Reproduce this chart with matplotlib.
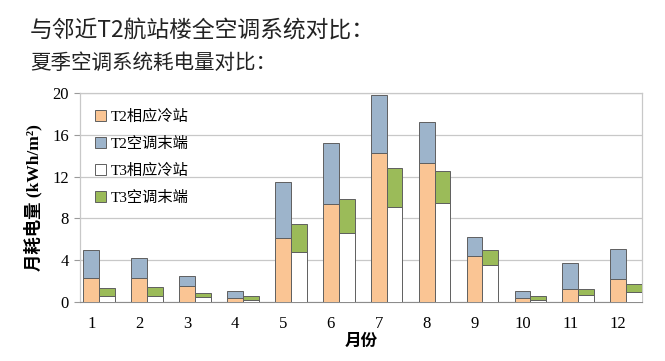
import numpy as np
import matplotlib
matplotlib.use("Agg")
import matplotlib.pyplot as plt
from matplotlib.patches import Patch

# monthly AC electricity use (kWh/m2)
months = ["1", "2", "3", "4", "5", "6", "7", "8", "9", "10", "11", "12"]
t2_plant = [2.26, 2.25, 1.5, 0.35, 6.1, 9.35, 14.25, 13.3, 4.4, 0.35, 1.24, 2.2]
t2_terminal = [2.74, 1.95, 1.0, 0.7, 5.35, 5.85, 5.55, 3.9, 1.8, 0.7, 2.49, 2.87]
t3_plant = [0.6, 0.6, 0.45, 0.2, 4.8, 6.6, 9.05, 9.45, 3.55, 0.2, 0.63, 0.98]
t3_terminal = [0.74, 0.8, 0.41, 0.37, 2.7, 3.3, 3.75, 3.1, 1.42, 0.35, 0.61, 0.74]
yticks = [0, 4, 8, 12, 16, 20]

c_t2p = "#FAC594"
c_t2t = "#9DB4CB"
c_t3p = "#FFFFFF"
c_t3t = "#9BBB59"
edge = "#5F5F5F"

serif_cjk = ["Liberation Serif", "Noto Sans CJK SC"]
sans_cjk = ["Noto Sans CJK SC", "DejaVu Sans"]

fig = plt.figure(figsize=(6.65, 3.61), dpi=100)
ax = fig.add_axes([80 / 665, 1 - 302 / 361, 562 / 665, 209 / 361])

x = np.arange(len(months))
w = 0.33
kw = dict(width=w, edgecolor=edge, linewidth=0.7, zorder=3)
ax.bar(x, t2_plant, color=c_t2p, **kw)
ax.bar(x, t2_terminal, bottom=t2_plant, color=c_t2t, **kw)
ax.bar(x + w, t3_plant, color=c_t3p, **kw)
ax.bar(x + w, t3_terminal, bottom=t3_plant, color=c_t3t, **kw)

ax.set_xlim(-0.236, 11 + 1.5 * w)
ax.set_ylim(0, 20)
ax.set_yticks(yticks)
ax.set_xticks(x)
ax.set_xticklabels(months, family=serif_cjk, fontsize=12)
ax.set_yticklabels([str(v) for v in yticks], family=serif_cjk, fontsize=12)
ax.tick_params(axis="x", length=0, pad=10)
ax.tick_params(axis="y", length=4, color="#9A9A9A", pad=4)
ax.grid(axis="y", color="#C8C8C8", linewidth=0.9, zorder=0)
for s in ["top", "right", "left"]:
    ax.spines[s].set_color("#C8C8C8")
    ax.spines[s].set_linewidth(0.9)
ax.spines["bottom"].set_color("#8C8C8C")

ax.set_ylabel("月耗电量 (kWh/m²)", family=serif_cjk, fontsize=12.5,
              fontweight="bold", labelpad=7)
ax.set_xlabel("月份", family=sans_cjk, fontsize=12, fontweight="bold", labelpad=0)

handles = [Patch(facecolor=c, edgecolor=edge, linewidth=0.7) for c in (c_t2p, c_t2t, c_t3p, c_t3t)]
labels = ["T2相应冷站", "T2空调末端", "T3相应冷站", "T3空调末端"]
ax.legend(handles, labels, loc="upper left", bbox_to_anchor=(0.0, 0.995), frameon=False,
          prop={"family": serif_cjk, "size": 11}, handlelength=0.7, handleheight=0.7,
          handletextpad=0.3, labelspacing=0.85, borderaxespad=0.6)

fig.text(30 / 665, 1 - 30 / 361, "与邻近T2航站楼全空调系统对比：", family=sans_cjk,
         fontsize=16.4, fontweight="medium", color="#222222", va="center", ha="left")
fig.text(30 / 665, 1 - 63 / 361, "夏季空调系统耗电量对比：", family=sans_cjk,
         fontsize=14.8, fontweight="medium", color="#222222", va="center", ha="left")

fig.savefig("out.png", dpi=100)
plt.close(fig)
